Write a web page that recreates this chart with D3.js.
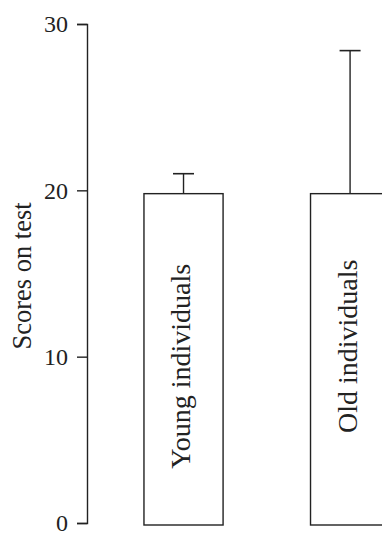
<!DOCTYPE html>
<html>
<head>
<meta charset="utf-8">
<script src="https://cdn.jsdelivr.net/npm/d3@7"></script>
<style>
  html, body { margin: 0; padding: 0; background: #fff; overflow: hidden; }
  svg { display: block; }
  text { font-family: "Liberation Serif", "Times New Roman", serif; fill: #222; }
</style>
</head>
<body>
<svg id="chart" width="382" height="534"></svg>
<script>
// Data
const categories = ["Young individuals", "Old individuals"];
const means = [19.8, 19.8];
const errors = [1.2, 8.6];
const yTicks = [0, 10, 20, 30];
const yLabel = "Scores on test";

const svg = d3.select("#chart");
const ink = "#222";

const y = d3.scaleLinear().domain([0, 30]).range([523, 24]);
const x = d3.scaleBand().domain(categories).range([87, 446.6])
  .paddingInner(0.525).paddingOuter(0.342);

// Axis
const axis = d3.axisLeft(y).tickValues(yTicks).tickFormat(d3.format("d"))
  .tickSize(10).tickSizeOuter(10).tickPadding(9);
const gAxis = svg.append("g").attr("transform", "translate(87,0)").call(axis);
gAxis.select(".domain").attr("stroke", ink).attr("stroke-width", 1.4);
gAxis.selectAll(".tick line").attr("stroke", ink).attr("stroke-width", 1.4);
gAxis.selectAll(".tick text")
  .style("font-family", '"Liberation Serif", serif')
  .attr("font-size", 24).attr("fill", ink);

// Y label
svg.append("text")
  .attr("transform", `translate(31,276) rotate(-90)`)
  .attr("text-anchor", "middle")
  .attr("font-size", 26.5)
  .text(yLabel);

// Bars
const labelShift = [8, -12];
const bars = svg.append("g");
categories.forEach((c, i) => {
  const x0 = x(c), bw = x.bandwidth(), cx = x0 + bw / 2;
  bars.append("rect")
    .attr("x", x0).attr("y", y(means[i]))
    .attr("width", bw).attr("height", y(0) + 2 - y(means[i]))
    .attr("fill", "#fff").attr("stroke", ink).attr("stroke-width", 1.4);
  // error bar
  bars.append("line")
    .attr("x1", cx).attr("x2", cx)
    .attr("y1", y(means[i])).attr("y2", y(means[i] + errors[i]))
    .attr("stroke", ink).attr("stroke-width", 1.4);
  bars.append("line")
    .attr("x1", cx - 10.5).attr("x2", cx + 10.5)
    .attr("y1", y(means[i] + errors[i])).attr("y2", y(means[i] + errors[i]))
    .attr("stroke", ink).attr("stroke-width", 1.6);
  // label inside bar
  bars.append("text")
    .attr("transform", `translate(${cx + 6.5},${y(means[i] / 2) + labelShift[i]}) rotate(-90)`)
    .attr("text-anchor", "middle")
    .attr("font-size", 28)
    .text(c);
});
</script>
</body>
</html>
